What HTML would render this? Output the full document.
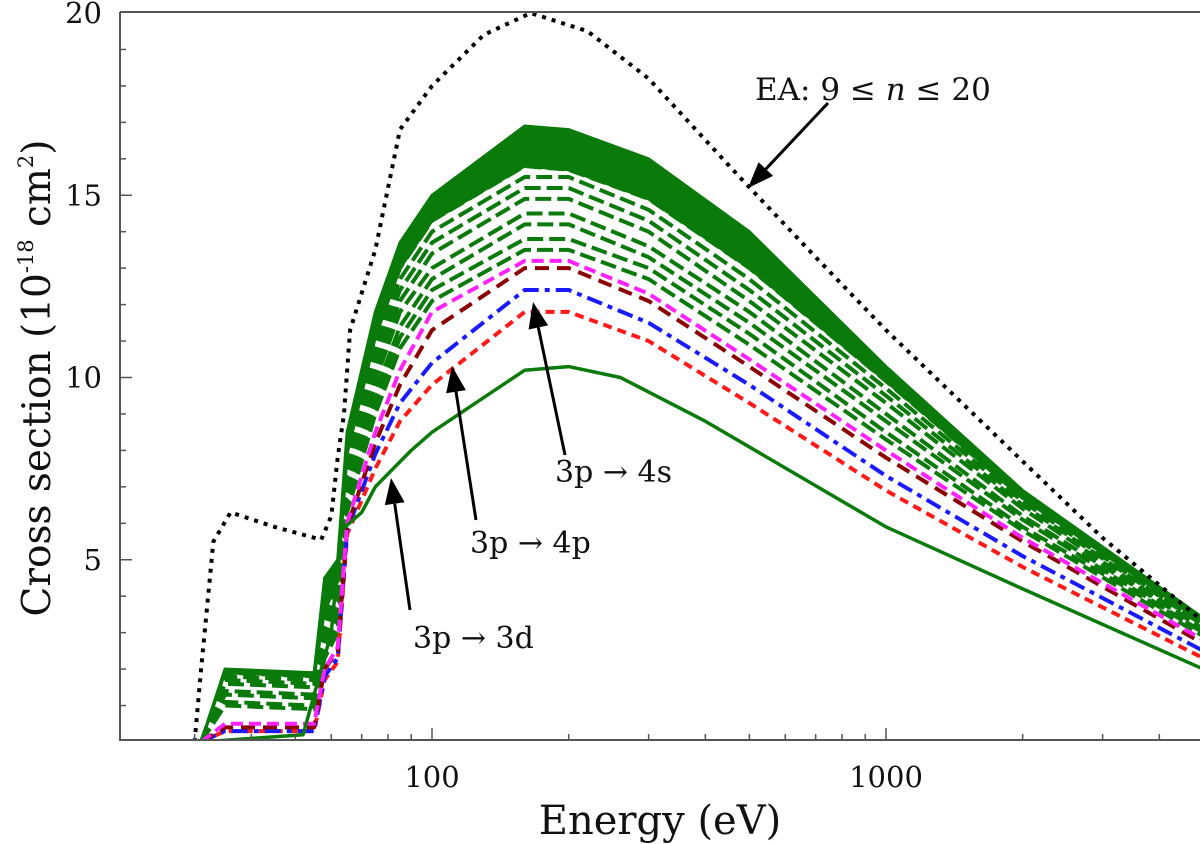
<!DOCTYPE html>
<html><head><meta charset="utf-8"><style>
body{margin:0;background:#fff}
svg{display:block}
text{font-family:"DejaVu Serif","Liberation Serif",serif;fill:#111}
</style></head><body>
<svg id="chart" width="1200" height="844" viewBox="0 0 1200 844" xmlns="http://www.w3.org/2000/svg">
<g id="plot"></g>
<g id="axes"></g>
<text x="660" y="834" font-size="40" text-anchor="middle">Energy (eV)</text>
<text transform="translate(50,378) rotate(-90)" font-size="39" text-anchor="middle">Cross section (10<tspan font-size="21" dy="-17">-18</tspan><tspan dy="17"> cm</tspan><tspan font-size="21" dy="-17">2</tspan><tspan dy="17">)</tspan></text>
<g>
<text x="755" y="100" font-size="31">EA: 9 ≤ <tspan font-style="italic">n</tspan> ≤ 20</text>
<text x="555" y="482" font-size="30">3p → 4s</text>
<text x="470" y="553" font-size="30">3p → 4p</text>
<text x="413" y="648" font-size="30">3p → 3d</text>
</g>
</svg>
<script>
const energies=[31,35,55,58,62,65,75,85,100,160,200,300,500,1000,2000,5000];
const magenta=[0,0.5,0.5,2,2.6,6,8.5,10.2,11.8,13.2,13.2,12.3,10.5,8.0,5.6,2.8];
const brown=[0,0.4,0.4,2,2.5,5.9,8.2,9.8,11.3,13.0,13.0,12.1,10.3,7.8,5.5,2.7];
const blue=[0,0.3,0.3,1.8,2.3,5.8,7.9,9.3,10.4,12.4,12.4,11.5,9.8,7.3,5.1,2.5];
const red=[0,0.3,0.3,1.7,2.2,5.7,7.5,8.8,9.8,11.8,11.8,11.0,9.3,6.9,4.8,2.3];
const d1=[0,1.0,0.9,2.3,3,6.3,9,10.8,12.1,13.5,13.5,12.7,10.9,8.3,5.8,2.9];
const d2=[0,1.1,1.0,2.4,3.2,6.5,9.3,11.1,12.4,13.8,13.8,13.0,11.2,8.5,5.9,3.0];
const d3=[0,1.3,1.2,2.6,3.4,6.8,9.6,11.4,12.7,14.2,14.2,13.3,11.5,8.8,6.1,3.0];
const d4=[0,1.4,1.3,2.8,3.6,7.0,9.9,11.8,13.0,14.5,14.5,13.6,11.8,9.0,6.2,3.1];
const d5=[0,1.6,1.5,3.0,3.8,7.3,10.2,12.1,13.4,14.9,14.9,14.0,12.1,9.3,6.4,3.1];
const d6=[0,1.7,1.6,3.2,4.0,7.5,10.5,12.4,13.7,15.2,15.2,14.3,12.4,9.5,6.5,3.2];
const d7=[0,1.8,1.7,3.4,4.2,7.7,10.8,12.7,14.0,15.5,15.5,14.6,12.7,9.7,6.6,3.2];
const d8=[0,1.9,1.8,3.6,4.4,7.9,11.1,13.0,14.3,15.8,15.7,14.9,13.0,9.9,6.7,3.3];
const greenTop=[0,2.0,1.9,4.5,5.0,8.5,11.8,13.7,15.0,16.9,16.8,16.0,14.0,10.3,6.9,3.4];
const e3dE=[31,52,57,60,63,70,75,90,100,160,200,260,400,1000,2000,5000];
const e3dV=[0,0.2,2,3,5.8,6.3,7,8,8.5,10.2,10.3,10,8.8,5.9,4.2,2.0];
const eaE=[30,31,33,36,45,57,60,62,64,66,75,85,100,130,165,220,300,476,700,1000,2000,3000,5000];
const eaV=[0,2,5.5,6.3,5.9,5.55,6.2,7.8,9,11.3,13.5,16.8,18,19.4,20,19.5,18.2,15.5,13.3,11.3,7.7,5.6,3.3];
const yTicks=[5,10,15,20];
const xTicks=[100,1000];

const NS='http://www.w3.org/2000/svg';
const L=120,R=1200,T=12,B=740;
function X(e){return 432+454*Math.log10(e/100);}
function Y(v){return 742-36.45*v;}
const plot=document.getElementById('plot'),axes=document.getElementById('axes');
function mk(tag,attrs,parent){const el=document.createElementNS(NS,tag);for(const k in attrs)el.setAttribute(k,attrs[k]);parent.appendChild(el);return el;}
function pts(E,V){return E.map((e,i)=>X(e).toFixed(1)+','+Y(V[i]).toFixed(1)).join(' ');}
const cp=mk('clipPath',{id:'clip'},plot);mk('rect',{x:L,y:T,width:R-L,height:B-T},cp);
const g=mk('g',{'clip-path':'url(#clip)'},plot);
const band=mk('polygon',{points:pts(energies,greenTop)+' '+pts(energies.slice().reverse(),d8.slice().reverse()),fill:'#0a7a0a',stroke:'#0a7a0a','stroke-width':3},g);


function line(E,V,color,w,dash,name){const p=mk('polyline',{points:pts(E,V),fill:'none',stroke:color,'stroke-width':w,'stroke-linejoin':'round'},g);if(dash)p.setAttribute('stroke-dasharray',dash);

return p;}
const ds=[d1,d2,d3,d4,d5,d6,d7,d8];
ds.forEach((d,i)=>{line(energies,d,'#0a7a0a',4,'16,6','green-dashed-'+(i+1));});
line(energies,red,'#ff1a1a',4,'9,6','line-3p-4p');
line(energies,blue,'#1a1aff',4,'16,6,5,6','line-blue');
line(energies,brown,'#8b0000',4,'14,8','line-brown');
line(energies,magenta,'#ff22ff',4,'12,6','line-magenta');
line(e3dE,e3dV,'#0a7a0a',3.5,null,'line-3p-3d');
line(eaE,eaV,'#000',4,'4,6','line-ea');
const fr=mk('path',{d:`M${L},${T}V${B}H${R}`,fill:'none',stroke:'#555','stroke-width':2},axes);


mk('line',{x1:L,y1:T,x2:R,y2:T,stroke:'#555','stroke-width':2},axes);
for(let v=1;v<20;v++){const long=v%5===0;mk('line',{x1:L,y1:Y(v),x2:L+(long?12:6),y2:Y(v),stroke:'#555','stroke-width':1.5},axes);}
yTicks.forEach(v=>{const t=mk('text',{x:L-18,y:Y(v)+10,'font-size':29,'text-anchor':'end'},axes);t.textContent=v;

});
for(let dec=10;dec<=1000;dec*=10){for(let m=1;m<10;m++){const e=dec*m;const x=X(e);if(x<L||x>R)continue;const long=m===1;mk('line',{x1:x,y1:B,x2:x,y2:B-(long?12:6),stroke:'#555','stroke-width':1.5},axes);}}
xTicks.forEach(e=>{const t=mk('text',{x:X(e),y:787,'font-size':29,'text-anchor':'middle'},axes);t.textContent=e;

});
const arrows=[[828,103,748,188,'arrow-ea'],[565,455,533,302,'arrow-4s'],[476,520,452,366,'arrow-4p'],[410,610,391,478,'arrow-3d']];
arrows.forEach(a=>{const [x1,y1,x2,y2,n]=a;const ag=mk('g',{},plot);


const dx=x2-x1,dy=y2-y1,len=Math.hypot(dx,dy),ux=dx/len,uy=dy/len;const hl=26,hw=10;
const bx=x2-ux*hl,by=y2-uy*hl;
mk('line',{x1:x1,y1:y1,x2:bx,y2:by,stroke:'#000','stroke-width':3},ag);
mk('polygon',{points:`${x2},${y2} ${bx-uy*hw},${by+ux*hw} ${bx+uy*hw},${by-ux*hw}`,fill:'#000'},ag);});
</script>
</body></html>
